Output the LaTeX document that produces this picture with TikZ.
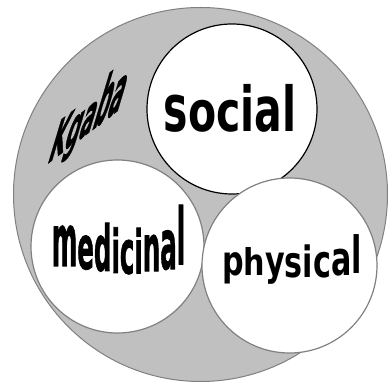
\documentclass[tikz,border=0pt]{standalone}
\usepackage{fontspec}
\usepackage{graphicx}
\setmainfont{DejaVu Sans}
\newfontfamily\heavyfont{DejaVu Sans Bold}[FakeBold=1.5]
\newcommand\warpltr[3]{\raisebox{#1pt}{\scalebox{1}[#2]{#3}}}
\definecolor{fillgray}{RGB}{192,192,192}
\definecolor{edgegray}{RGB}{128,128,128}
\begin{document}
\begin{tikzpicture}[x=1pt,y=1pt,
  outerc/.style={draw=edgegray, fill=fillgray, line width=1pt},
  innerc/.style={draw=edgegray, fill=white, line width=1.2pt},
  socialc/.style={draw=black, fill=white, line width=1.2pt},
  word/.style={font=\bfseries\fontsize{10}{12}\selectfont, inner sep=0pt, transform shape, anchor=base},
  heavyword/.style={word, font=\heavyfont\fontsize{10}{12}\selectfont}]
\useasboundingbox (0,0) rectangle (389,382);
\draw[outerc] (200.5,187.5) circle[radius=187];
\draw[socialc] (232,273) circle[radius=85];
\draw[innerc] (117.5,135.5) circle[radius=86.5];
\draw[innerc] (289.5,116.5) circle[radius=87.5];
\begin{scope}[shift={(46,217)}]
  \node[heavyword, anchor=base west, cm={2.05,1.55,1.8,6.0,(0,0)}] (kgaba) at (0,0)
    {Kga\warpltr{0}{1.25}{b}\warpltr{0}{1.15}{a}};
\end{scope}
\begin{scope}[shift={(230,250)}]
  \node[word, xscale=4.1, yscale=6.2] (social) at (0,0)
    {\warpltr{0}{1.05}{s}\warpltr{0}{0.9}{o}\warpltr{0}{0.9}{c}ial};
\end{scope}
\begin{scope}[shift={(118.5,113)}]
  \node[heavyword, xscale=2.45, yscale=6.0] (medicinal) at (0,0)
    {\warpltr{0.5}{1.2}{m}\warpltr{0}{1}{e}\warpltr{-0.3}{1.05}{d}\warpltr{-0.65}{1}{i}\warpltr{-0.75}{1}{c}\warpltr{-0.75}{1}{i}\warpltr{-0.35}{1.08}{n}\warpltr{0}{1.15}{a}\warpltr{0.8}{1.3}{l}};
\end{scope}
\begin{scope}[shift={(292,106)}]
  \node[word, xscale=3.02, yscale=4.1] (physical) at (0,0)
    {\warpltr{0}{1}{p}\warpltr{0.2}{0.9}{h}\warpltr{0}{1}{y}\warpltr{-0.4}{1.05}{s}\warpltr{-0.4}{1.05}{i}\warpltr{-0.3}{1.1}{c}\warpltr{0}{1.15}{a}\warpltr{0.6}{1.25}{l}};
\end{scope}
\end{tikzpicture}
\end{document}
